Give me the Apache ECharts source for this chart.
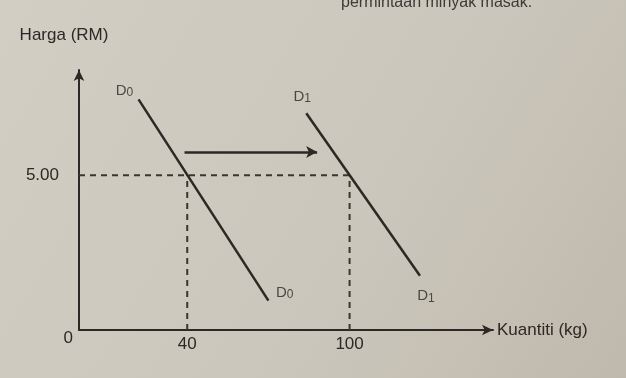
<!DOCTYPE html>
<html><head><meta charset="utf-8">
<script src="https://cdn.jsdelivr.net/npm/echarts@6/dist/echarts.min.js"></script>
<style>html,body{margin:0;padding:0;}#c{width:626px;height:378px;}</style>
</head><body><div id="c"></div>
<script>
const qtyTicks = [40, 100];
const priceTicks = [0, 5];
const eqPrice = 5;
const d0 = [[22, 7.45], [70, 0.95]];
const d1 = [[84, 7.0], [126, 1.75]];
const shiftArrow = [[39, 5.75], [88, 5.75]];
const xMax = 153, yMax = 8.4;

const ink = '#2b2825';
const font = 'Liberation Sans';
const dash = { color: '#3a3632', width: 2, type: [6, 5] };
const dLabel = (pos, off) => ({
  show: true, position: pos, offset: off, formatter: p => p.value[2],
  rich: { m: { fontSize: 15, color: ink, fontFamily: font }, s: { fontSize: 12, color: ink, fontFamily: font, padding: [4, 0, 0, 0] } }
});
const chart = echarts.init(document.getElementById('c'));
chart.setOption({
  backgroundColor: new echarts.graphic.LinearGradient(0, 0, 1, 1, [
    { offset: 0, color: '#d2cec4' }, { offset: 0.6, color: '#cbc6bb' }, { offset: 1, color: '#bfb9ad' }]),
  animation: false,
  title: { text: 'permintaan minyak masak.', left: 336, top: -10,
    textStyle: { fontFamily: font, fontSize: 16, fontWeight: 'normal', color: '#3e3a35' } },
  grid: { left: 79, right: 133, top: 70, bottom: 48 },
  xAxis: {
    type: 'value', min: 0, max: xMax,
    name: 'Kuantiti (kg)', nameLocation: 'end', nameGap: 4,
    nameTextStyle: { fontFamily: font, fontSize: 17, color: ink, padding: [18, 0, 0, 0] },
    axisLine: { lineStyle: { color: ink, width: 2 }, symbol: ['none', 'arrow'], symbolSize: [8, 11] },
    axisTick: { show: false }, splitLine: { show: false },
    axisLabel: { customValues: qtyTicks, fontFamily: font, fontSize: 17, color: ink, margin: 6 }
  },
  yAxis: {
    type: 'value', min: 0, max: yMax,
    name: 'Harga (RM)', nameLocation: 'end', nameGap: 26,
    nameTextStyle: { fontFamily: font, fontSize: 17, color: ink, align: 'center', padding: [0, 30, 0, 0] },
    axisLine: { show: true, lineStyle: { color: ink, width: 2 }, symbol: ['none', 'arrow'], symbolSize: [8, 11] },
    axisTick: { show: false }, splitLine: { show: false },
    axisLabel: { customValues: priceTicks, fontFamily: font, fontSize: 17, color: ink, margin: 6,
      formatter: v => v === 0 ? '{z|0}' : '{f|' + v.toFixed(2) + '}',
      rich: { z: { fontFamily: font, fontSize: 17, color: ink, padding: [16, 0, 0, 0] },
              f: { fontFamily: font, fontSize: 17, color: ink, padding: [0, 14, 0, 0] } } }
  },
  series: [
    { type: 'line', data: [[0, eqPrice], [qtyTicks[1], eqPrice]], symbol: 'none', lineStyle: dash, silent: true },
    { type: 'line', data: [[qtyTicks[0], 0], [qtyTicks[0], eqPrice]], symbol: 'none', lineStyle: dash, silent: true },
    { type: 'line', data: [[qtyTicks[1], 0], [qtyTicks[1], eqPrice]], symbol: 'none', lineStyle: dash, silent: true },
    { type: 'line', data: d0, symbol: 'none', lineStyle: { color: ink, width: 2.5 }, silent: true },
    { type: 'line', data: d1, symbol: 'none', lineStyle: { color: ink, width: 2.5 }, silent: true,
      markLine: { silent: true, symbol: ['none', 'arrow'], symbolSize: [9, 11], label: { show: false },
        lineStyle: { color: ink, width: 2.5, type: 'solid' },
        data: [[{ coord: shiftArrow[0] }, { coord: shiftArrow[1] }]] } },
    { type: 'scatter', symbolSize: 1, itemStyle: { color: 'rgba(0,0,0,0)' }, silent: true,
      data: [
        { value: [d0[0][0], d0[0][1], '{m|D}{s|0}'], label: dLabel('top', [-14, 5]) },
        { value: [d0[1][0], d0[1][1], '{m|D}{s|0}'], label: dLabel('right', [2, -8]) },
        { value: [d1[0][0], d1[0][1], '{m|D}{s|1}'], label: dLabel('top', [-4, -3]) },
        { value: [d1[1][0], d1[1][1], '{m|D}{s|1}'], label: dLabel('bottom', [6, 7]) }
      ] }
  ]
});
</script></body></html>
